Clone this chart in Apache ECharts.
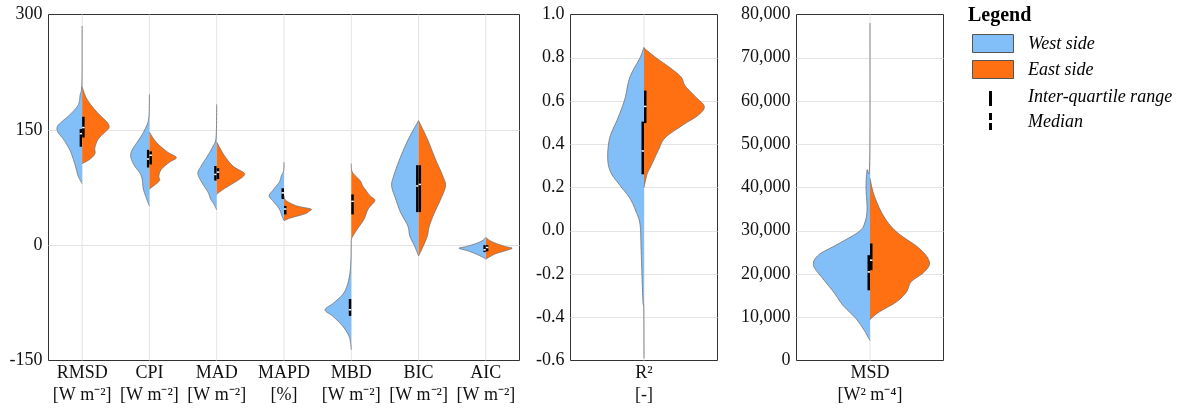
<!DOCTYPE html>
<html>
<head>
<meta charset="utf-8">
<script src="https://cdn.jsdelivr.net/npm/echarts@6/dist/echarts.min.js"></script>
<style>
  html, body { margin: 0; padding: 0; background: #fff; }
  #chart { width: 1189px; height: 410px; }
</style>
</head>
<body>
<div id="chart"></div>
<script>
const FONT = '"Liberation Serif", "Times New Roman", serif';
const BLUE = '#82bef7';
const ORANGE = '#ff7012';

// panel 1: error metrics
const cats1 = ['RMSD', 'CPI', 'MAD', 'MAPD', 'MBD', 'BIC', 'AIC'];
const units1 = ['[W m⁻²]', '[W m⁻²]', '[W m⁻²]', '[%]', '[W m⁻²]', '[W m⁻²]', '[W m⁻²]'];
const ticks1 = { min: -150, max: 300, interval: 150 };

// violin outlines: [value, half width in % of category band]
const west1 = [
  [[285, 0], [212, 0.3], [195, 3], [182, 6], [169, 19], [160, 31], [154, 37], [147, 36], [138, 28], [128, 21], [119, 16], [103, 10], [90, 6], [80, 0]],
  [[196, 0], [165, 1], [150, 7], [138, 15], [125, 25], [117, 28], [110, 26], [103, 22], [90, 12], [73, 9], [60, 4], [51, 0]],
  [[183, 0], [140, 1], [128, 6], [117, 13], [103, 23], [93, 28], [80, 21], [69, 13], [60, 9], [53, 4], [46, 0]],
  [[108, 0], [97, 0.5], [90, 4], [82, 7], [72, 16], [64, 22], [56, 15], [47, 7], [38, 3], [32, 0]],
  [[8, 0], [-23, 0.7], [-44, 3.5], [-62, 11], [-75, 26], [-84, 39], [-92, 28], [-105, 13], [-118, 3.5], [-128, 1], [-136, 0]],
  [[162, 0], [138, 15], [112, 28], [90, 37], [77, 40], [60, 34], [43, 27], [25, 16], [12, 13], [-1, 6], [-14, 0]],
  [[10, 0], [6, 5], [2, 15], [-2, 30], [-4, 40], [-7, 28], [-11, 16], [-15, 6], [-18, 0]]
];
const east1 = [
  [[206, 0], [190, 7], [173, 22], [160, 37], [153, 40], [147, 34], [138, 24], [127, 19], [119, 19], [112, 12], [106, 0]],
  [[147, 0], [134, 10], [121, 27], [114, 40], [108, 30], [99, 18], [90, 14], [84, 15], [77, 6], [73, 0]],
  [[134, 0], [117, 11], [103, 24], [95, 39], [91, 41], [84, 31], [75, 14], [69, 4], [66, 0]],
  [[64, 0], [58, 3], [51, 19], [47, 40], [44, 37], [41, 32], [36, 12], [33, 3], [32, 0]],
  [[106, 0], [95, 1.5], [84, 13], [77, 17], [71, 22], [64, 28], [58, 35], [47, 25], [34, 19], [21, 9], [12, 2.5], [8, 0]],
  [[162, 0], [138, 13], [112, 25], [90, 36], [77, 40], [60, 33], [43, 24], [25, 16], [12, 13], [-1, 7], [-14, 0]],
  [[10, 0], [6, 6], [2, 16], [-2, 30], [-4, 39], [-7, 30], [-11, 15], [-15, 6], [-18, 0]]
];
// [q1, q3, median]
const westStats1 = [[128, 151, 145], [101, 124, 112], [84, 103, 92], [60, 74, 68], [-92, -70, -84], [43, 104, 77], [-9, 0, -6]];
const eastStats1 = [[140, 167, 153], [105, 122, 117], [86, 100, 95], [40, 51, 47], [40, 66, 57], [43, 104, 79], [-8, 0, -3]];

// panel 2: R²
const cats2 = ['R²'];
const units2 = ['[-]'];
const ticks2 = { min: -0.6, max: 1.0, interval: 0.2 };
const west2 = [[[0.85, 0], [0.80, 2.7], [0.71, 9.6], [0.61, 13], [0.52, 17.8], [0.43, 23.3], [0.335, 24.7], [0.27, 22.6], [0.21, 16.4], [0.15, 9.6], [0.09, 5.5], [0.03, 2.7], [-0.08, 2], [-0.2, 1.4], [-0.33, 0.7], [-0.36, 0.15], [-0.59, 0]]];
const east2 = [[[0.845, 0], [0.80, 8.2], [0.75, 18.5], [0.71, 25.3], [0.67, 28], [0.62, 35], [0.575, 41], [0.535, 37], [0.49, 26.7], [0.43, 14.4], [0.37, 9.6], [0.30, 4.8], [0.26, 2], [0.20, 0]]];
const westStats2 = [[0.261, 0.505, 0.369]];
const eastStats2 = [[0.498, 0.648, 0.575]];

// panel 3: MSD
const cats3 = ['MSD'];
const units3 = ['[W² m⁻⁴]'];
const ticks3 = { min: 0, max: 80000, interval: 10000 };
const west3 = [[[78000, 0], [46000, 0.2], [44000, 2], [40000, 2.7], [35000, 2], [32000, 3.4], [29800, 7.5], [26700, 23], [24400, 35], [22000, 38.4], [18900, 32], [15800, 24.7], [12800, 18.5], [9700, 9.6], [7000, 4], [4600, 0]]];
const east3 = [[[42100, 0], [38300, 2.7], [33600, 8.9], [29800, 17.8], [25900, 33.6], [22800, 40.4], [20500, 37], [18200, 28], [15800, 24.7], [13500, 17.8], [11200, 6.2], [9700, 0.7], [9400, 0]]];
const westStats3 = [[16230, 24350, 20480]];
const eastStats3 = [[20870, 27060, 23190]];

const panels = [
  { cats: cats1, units: units1, ticks: ticks1, west: west1, east: east1, ws: westStats1, es: eastStats1, left: 48.5, width: 471, fmt: v => String(v) },
  { cats: cats2, units: units2, ticks: ticks2, west: west2, east: east2, ws: westStats2, es: eastStats2, left: 570.5, width: 147,
    fmt: v => (Math.abs(v) < 1e-9 ? 0 : v).toFixed(1) },
  { cats: cats3, units: units3, ticks: ticks3, west: west3, east: east3, ws: westStats3, es: eastStats3, left: 796.5, width: 147,
    fmt: v => String(Math.round(v)).replace(/\B(?=(\d{3})+(?!\d))/g, ',') }
];

// Catmull-Rom through the outline points, kept on its own side of the centre
function smoothOutline(pts, cx, side) {
  const out = [];
  const n = pts.length;
  for (let k = 0; k < n - 1; k++) {
    const p0 = pts[Math.max(k - 1, 0)], p1 = pts[k], p2 = pts[k + 1], p3 = pts[Math.min(k + 2, n - 1)];
    for (let s = 0; s < 10; s++) {
      const t = s / 10, t2 = t * t, t3 = t2 * t;
      const f = (a, b, c, d) => 0.5 * (2 * b + (-a + c) * t + (2 * a - 5 * b + 4 * c - d) * t2 + (-a + 3 * b - 3 * c + d) * t3);
      let x = f(p0[0], p1[0], p2[0], p3[0]);
      const y = f(p0[1], p1[1], p2[1], p3[1]);
      x = side < 0 ? Math.min(x, cx) : Math.max(x, cx);
      out.push([x, y]);
    }
  }
  out.push(pts[n - 1]);
  return out;
}

function gridLines(gi, cats) {
  return {
    type: 'custom', xAxisIndex: gi, yAxisIndex: gi, z: 1, silent: true,
    data: cats.map((c, i) => [i]),
    encode: { x: 0 },
    renderItem(params, api) {
      const cs = params.coordSys;
      const x = api.coord([api.value(0), 0])[0];
      return { type: 'line', shape: { x1: x, y1: cs.y, x2: x, y2: cs.y + cs.height }, style: { stroke: '#e4e4e4', lineWidth: 1 } };
    }
  };
}

function violin(name, gi, profiles, stats, side, color) {
  return {
    type: 'custom', name, xAxisIndex: gi, yAxisIndex: gi, z: 3,
    data: stats.map((s, i) => [i, s[0], s[1], s[2]]),
    encode: { x: 0, y: [1, 2, 3] },
    renderItem(params, api) {
      const i = params.dataIndex;
      const band = api.size([1, 0])[0];
      const cx = api.coord([i, api.value(3)])[0];
      const raw = profiles[i].map(p => {
        const c = api.coord([i, p[0]]);
        return [c[0] + side * p[1] / 100 * band, c[1]];
      });
      const pts = smoothOutline(raw, cx, side);
      const yq1 = api.coord([i, api.value(1)])[1];
      const yq3 = api.coord([i, api.value(2)])[1];
      const ymd = api.coord([i, api.value(3)])[1];
      const bw = 2.5;
      const x0 = side < 0 ? cx - bw : cx;
      return {
        type: 'group',
        children: [
          { type: 'polygon', shape: { points: pts }, style: { fill: color } },
          { type: 'polyline', shape: { points: pts }, style: { fill: null, stroke: '#707070', lineWidth: 0.8 } },
          { type: 'rect', shape: { x: x0, y: yq3, width: bw, height: yq1 - yq3 }, style: { fill: '#000' } },
          { type: 'line', shape: { x1: x0, y1: ymd, x2: x0 + bw, y2: ymd }, style: { stroke: '#fff', lineWidth: 1.5 } }
        ]
      };
    }
  };
}

const grids = [], xAxes = [], yAxes = [], series = [];
panels.forEach((p, gi) => {
  grids.push({ left: p.left, width: p.width, top: 14.5, height: 346, show: true, borderColor: '#333', borderWidth: 1 });
  xAxes.push({
    type: 'category', gridIndex: gi, data: p.cats,
    axisLine: { show: false }, axisTick: { show: false }, splitLine: { show: false },
    axisLabel: {
      interval: 0, margin: 2, fontFamily: FONT, fontSize: 18, color: '#111', lineHeight: 22,
      formatter: (v, i) => v + '\n' + p.units[i]
    }
  });
  yAxes.push({
    type: 'value', gridIndex: gi, min: p.ticks.min, max: p.ticks.max, interval: p.ticks.interval,
    axisLine: { show: false }, axisTick: { show: false },
    splitLine: { show: true, showMinLine: false, showMaxLine: false, lineStyle: { color: '#e4e4e4', width: 1 } },
    axisLabel: { margin: 6, fontFamily: FONT, fontSize: 18, color: '#111', formatter: p.fmt }
  });
  series.push(gridLines(gi, p.cats));
  series.push(violin('West side', gi, p.west, p.ws, -1, BLUE));
  series.push(violin('East side', gi, p.east, p.es, 1, ORANGE));
});

const legendText = (text, y) => ({
  type: 'text', x: 1028, y,
  style: { text, fill: '#000', font: 'italic 18px ' + FONT, verticalAlign: 'middle' }
});

const graphic = [
  { type: 'text', x: 968, y: 16, style: { text: 'Legend', fill: '#000', font: 'bold 20px ' + FONT, verticalAlign: 'middle' } },
  { type: 'rect', shape: { x: 972.5, y: 34.5, width: 41, height: 18 }, style: { fill: BLUE, stroke: '#555', lineWidth: 1 } },
  legendText('West side', 44),
  { type: 'rect', shape: { x: 972.5, y: 60.5, width: 41, height: 18 }, style: { fill: ORANGE, stroke: '#555', lineWidth: 1 } },
  legendText('East side', 70),
  { type: 'rect', shape: { x: 989, y: 91, width: 3, height: 15 }, style: { fill: '#000' } },
  legendText('Inter-quartile range', 97),
  { type: 'rect', shape: { x: 989, y: 113, width: 3, height: 7 }, style: { fill: '#000' } },
  { type: 'rect', shape: { x: 989, y: 123, width: 3, height: 7 }, style: { fill: '#000' } },
  legendText('Median', 122)
];

const chart = echarts.init(document.getElementById('chart'), null, { renderer: 'canvas' });
chart.setOption({
  animation: false,
  backgroundColor: '#fff',
  grid: grids,
  xAxis: xAxes,
  yAxis: yAxes,
  series,
  graphic
});
</script>
</body>
</html>
